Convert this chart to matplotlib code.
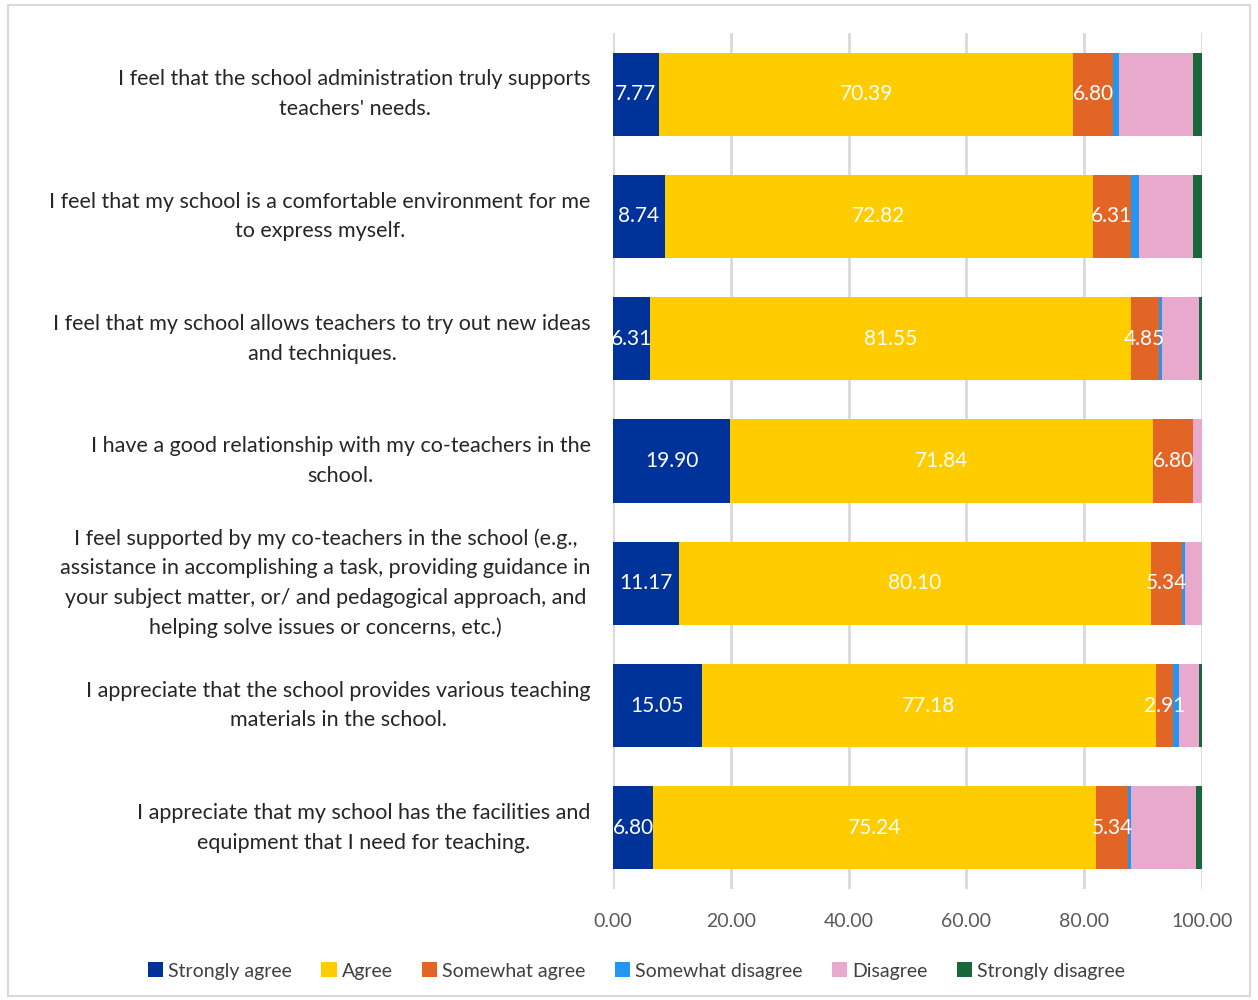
import matplotlib
matplotlib.use("Agg")
import matplotlib.pyplot as plt
from matplotlib.patches import Rectangle
import numpy as np

plt.rcParams['font.family'] = ['Lato', 'DejaVu Sans']

statements = [
    "I feel that the school administration truly supports\nteachers' needs.",
    "I feel that my school is a comfortable environment for me\nto express myself.",
    "I feel that my school allows teachers to try out new ideas\nand techniques.",
    "I have a good relationship with my co-teachers in the\nschool.",
    "I feel supported by my co-teachers in the school (e.g.,\nassistance in accomplishing a task, providing guidance in\nyour subject matter, or/ and pedagogical approach, and\nhelping solve issues or concerns, etc.)",
    "I appreciate that the school provides various teaching\nmaterials in the school.",
    "I appreciate that my school has the facilities and\nequipment that I need for teaching.",
]

series_names = ["Strongly agree", "Agree", "Somewhat agree",
                "Somewhat disagree", "Disagree", "Strongly disagree"]

strongly_agree = [7.77, 8.74, 6.31, 19.90, 11.17, 15.05, 6.80]
agree = [70.39, 72.82, 81.55, 71.84, 80.10, 77.18, 75.24]
somewhat_agree = [6.80, 6.31, 4.85, 6.80, 5.34, 2.91, 5.34]
somewhat_disagree = [0.97, 1.46, 0.49, 0.00, 0.49, 0.97, 0.49]
disagree = [12.62, 9.22, 6.31, 1.46, 2.91, 3.40, 11.17]
strongly_disagree = [1.46, 1.46, 0.49, 0.00, 0.00, 0.49, 0.97]

x_ticks = [0, 20, 40, 60, 80, 100]

colors = ["#003399", "#FFCC00", "#E26526", "#2196F3", "#E8A9CC", "#17693A"]
labelled = [True, True, True, False, False, False]

fig = plt.figure(figsize=(12.58, 10.0), dpi=100)
ax = fig.add_axes([0.4873, 0.111, 0.4682, 0.856])

series = [strongly_agree, agree, somewhat_agree,
          somewhat_disagree, disagree, strongly_disagree]
y = np.arange(len(statements))
left = np.zeros(len(statements))
for name, vals, col, lab in zip(series_names, series, colors, labelled):
    vals = np.array(vals)
    ax.barh(y, vals, left=left, height=0.68, color=col, label=name, zorder=3)
    if lab:
        for yi, (l, v) in enumerate(zip(left, vals)):
            ax.text(l + v / 2, yi, f"{v:.2f}", ha='center', va='center',
                    color='white', fontsize=15, zorder=4)
    left += vals

ax.set_xlim(0, 100)
ax.set_ylim(len(statements) - 0.5, -0.5)
ax.set_xticks(x_ticks)
ax.set_xticklabels([f"{t:.2f}" for t in x_ticks], color='#595959', fontsize=14)
ax.set_yticks(y)
ax.set_yticklabels(statements, fontsize=15.5, color='#262626', va='center',
                   multialignment='center', linespacing=1.6)
ax.tick_params(axis='x', length=0, pad=17)
ax.tick_params(axis='y', length=0, pad=16)
ax.grid(axis='x', color='#d9d9d9', linewidth=2, zorder=0)
for s in ax.spines.values():
    s.set_visible(False)

fig.legend(loc='center', bbox_to_anchor=(0.506, 0.029), ncol=6, frameon=False,
           fontsize=14, handlelength=0.8, handleheight=0.8, handletextpad=0.25,
           columnspacing=1.5, labelcolor='#404040')

fig.add_artist(Rectangle((0.006, 0.004), 0.988, 0.991, transform=fig.transFigure,
                         fill=False, edgecolor='#d9d9d9', linewidth=1.5))

fig.savefig("out.png", dpi=100)
